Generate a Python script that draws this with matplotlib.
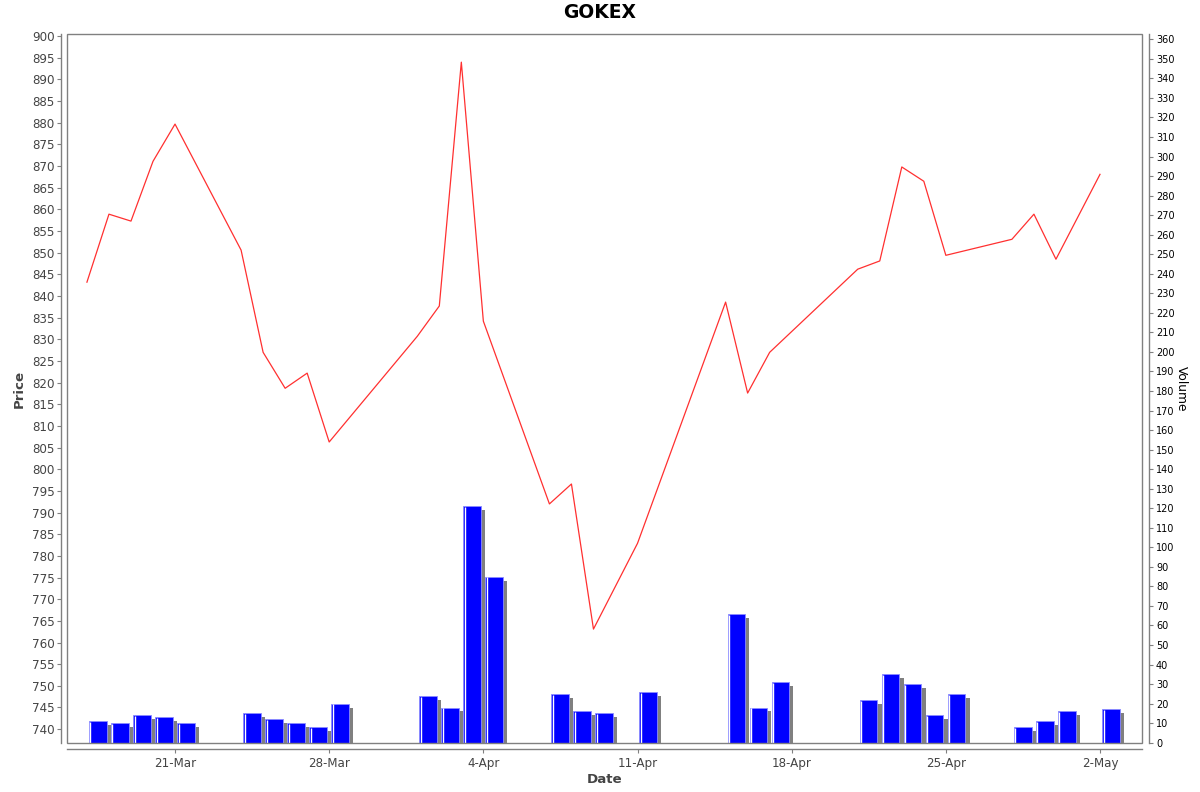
import numpy as np
import pandas as pd
import matplotlib
matplotlib.use("Agg")
import matplotlib.pyplot as plt
import matplotlib.dates as mdates
from matplotlib.patches import Rectangle

# trading days (2025)
dates = ["2025-03-17", "2025-03-18", "2025-03-19", "2025-03-20", "2025-03-21",
         "2025-03-24", "2025-03-25", "2025-03-26", "2025-03-27", "2025-03-28",
         "2025-04-01", "2025-04-02", "2025-04-03", "2025-04-04",
         "2025-04-07", "2025-04-08", "2025-04-09", "2025-04-11",
         "2025-04-15", "2025-04-16", "2025-04-17",
         "2025-04-21", "2025-04-22", "2025-04-23", "2025-04-24", "2025-04-25",
         "2025-04-28", "2025-04-29", "2025-04-30", "2025-05-02"]

price = [843.2, 858.9, 857.3, 871.1, 879.7,
         850.6, 827.0, 818.7, 822.2, 806.3,
         830.7, 837.7, 894.0, 834.2,
         792.0, 796.6, 763.1, 782.9,
         838.6, 817.6, 827.0,
         846.2, 848.1, 869.8, 866.5, 849.4,
         853.1, 858.9, 848.5, 868.1]

volume = [11, 10, 14, 13, 10,
          15, 12, 10, 8, 20,
          24, 18, 121, 85,
          25, 16, 15, 26,
          66, 18, 31,
          22, 35, 30, 14, 25,
          8, 11, 16, 17]

tick_dates = ["2025-03-21", "2025-03-28", "2025-04-04", "2025-04-11",
              "2025-04-18", "2025-04-25", "2025-05-02"]

x = mdates.date2num(pd.to_datetime(dates))
vol = np.array(volume, dtype=float)
xt = pd.to_datetime(tick_dates)

fig = plt.figure(figsize=(12, 7.92), dpi=100)
ax = fig.add_axes([67 / 1200, 1 - 743 / 792, (1142 - 67) / 1200, (743 - 34) / 792])
ax2 = ax.twinx()

grey = "#808080"
txt = "#444444"

# volume bars with drop shadow
ax2.bar(x + 0.28, vol - 2.0, width=0.8, align="edge", color="#808080",
        linewidth=0, zorder=1)
ax2.bar(x + 0.09, vol, width=0.8, align="edge", color="#0000ff",
        edgecolor="#8c8cff", linewidth=0.6, zorder=2)
ax2.vlines(x + 0.16, 0, vol - 0.4, color="white", linewidth=1.0, zorder=3)

# price line
ax.plot(x, price, color="#ff3030", linewidth=0.9)

ax.set_zorder(ax2.get_zorder() + 1)
ax.patch.set_visible(False)

x0 = mdates.date2num(pd.Timestamp("2025-03-16")) + 0.095
x1 = mdates.date2num(pd.Timestamp("2025-05-02")) + 1.907
ax.set_xlim(x0, x1)
ax.set_ylim(736.8, 900.5)
ax2.set_ylim(-0.15, 362.7)

ax.set_yticks(np.arange(740, 901, 5))
ax2.set_yticks(np.arange(0, 361, 10))
ax.set_xticks(mdates.date2num(xt))
ax.set_xticklabels([f"{d.day}-{d.strftime('%b')}" for d in xt])

# spines: offset axis lines plus plot border
for s in ["top", "right"]:
    ax.spines[s].set_visible(False)
ax.spines["left"].set_position(("outward", 4))
ax.spines["bottom"].set_position(("outward", 4))
for s in ["top", "left", "bottom"]:
    ax2.spines[s].set_visible(False)
ax2.spines["right"].set_position(("outward", 5))
for sp in [ax.spines["left"], ax.spines["bottom"], ax2.spines["right"]]:
    sp.set_color(grey)
    sp.set_linewidth(1.0)
ax2.add_patch(Rectangle((0, 0), 1, 1, transform=ax2.transAxes, fill=False,
                        edgecolor=grey, linewidth=1.0, clip_on=False, zorder=10))

ax.tick_params(axis="y", length=3, width=0.8, color=grey, pad=2,
               labelsize=8.6, labelcolor=txt)
ax.tick_params(axis="x", length=3, width=0.8, color=grey, pad=3,
               labelsize=8.6, labelcolor=txt)
ax2.tick_params(axis="y", length=3, width=0.8, color=grey, pad=2,
                labelsize=7, labelcolor="black")

ax.set_ylabel("Price", fontsize=9.6, fontweight="bold", color=txt, labelpad=4)
ax.set_xlabel("Date", fontsize=9.6, fontweight="bold", color=txt, labelpad=2)
ax2.set_ylabel("Volume", fontsize=8.8, color="black", rotation=-90, labelpad=10)

fig.text(0.5, 1 - 13 / 792, "GOKEX", ha="center", va="center",
         fontsize=13.5, fontweight="bold", color="black")

fig.savefig("out.png", dpi=100)
